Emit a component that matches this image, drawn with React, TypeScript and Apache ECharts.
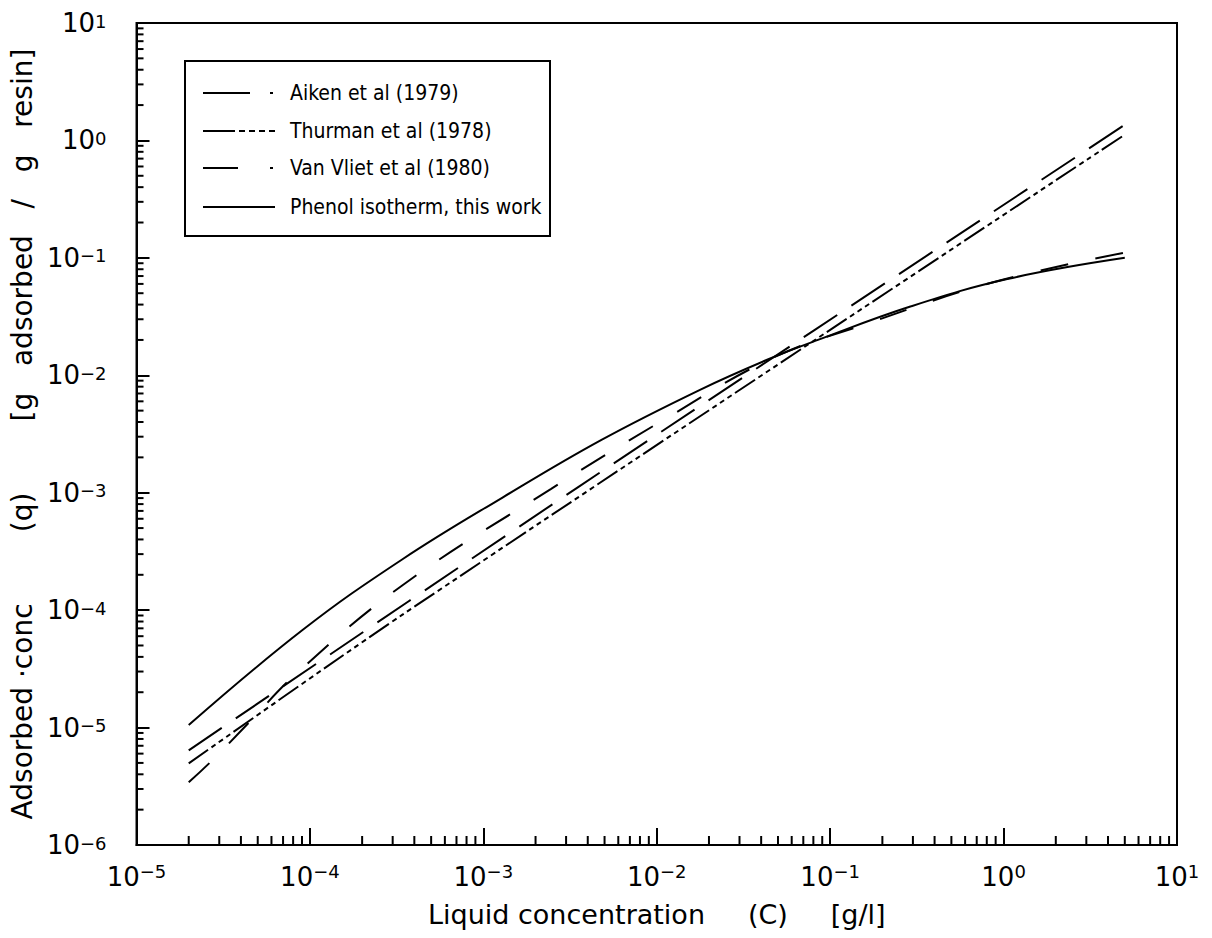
import React, { useEffect, useRef } from "react";
import * as echarts from "echarts";

const FONT = "'DejaVu Sans', 'Liberation Sans', Arial, sans-serif";
const LEGEND_FONT = "'Liberation Sans Narrow', 'DejaVu Sans Condensed', 'Liberation Sans', sans-serif";

// Liquid concentration C [g/l] and adsorbed concentration q [g/g] per isotherm
const aikenC = [2e-5, 3.47e-3, 5];
const aikenQ = [6.4e-6, 1.1e-3, 1.36];

const thurmanC = [2e-5, 3.4e-4, 5];
const thurmanQ = [4.95e-6, 9.1e-5, 1.12];

const vanVlietC = [2e-5, 2.73e-5, 4.23e-5, 8.5e-5, 3.42e-4, 2.46e-3, 1.14e-2, 4.68e-2, 0.157, 0.84, 5];
const vanVlietQ = [3.42e-6, 5.25e-6, 1.02e-5, 2.95e-5, 1.63e-4, 1.08e-3, 4.32e-3, 1.41e-2, 2.7e-2, 6.1e-2, 0.111];

const phenolC = [2e-5, 9.1e-5, 3.4e-4, 1.29e-3, 4.8e-3, 1.8e-2, 4.4e-2, 8.5e-2, 0.29, 1.05, 5];
const phenolQ = [1.05e-5, 6.8e-5, 2.7e-4, 9.1e-4, 2.82e-3, 7.6e-3, 1.37e-2, 2.0e-2, 3.85e-2, 6.6e-2, 0.1];

const legendLabels = [
  "Aiken et al (1979)",
  "Thurman et al (1978)",
  "Van Vliet et al (1980)",
  "Phenol isotherm, this work",
];

const xTitle = "Liquid concentration     (C)     [g/l]";
const yTitle = "Adsorbed \u00b7conc        (q)        [g   adsorbed   /   g   resin]";

// decades that carry minor ticks (2..9 x 10^n)
const xDecades = [-5, -4, -3, -2, -1, 0];
const yDecades = [-6, -5, -4, -3, -2, -1, 0];
const minorSteps = [2, 3, 4, 5, 6, 7, 8, 9];

const xMinor = xDecades.flatMap((d) => minorSteps.map((m) => m * Math.pow(10, d)));
const yMinor = yDecades.flatMap((d) => minorSteps.map((m) => m * Math.pow(10, d)));

const pair = (xs: number[], ys: number[]) => xs.map((x, i) => [x, ys[i]]);

const powerLabel = (v: number) => {
  const e = Math.round(Math.log10(v));
  const sup = e < 0 ? "\u2212" + Math.abs(e) : String(e);
  return `{b|10}{s|${sup}}`;
};

const DASH_AIKEN = [40, 17];
const DASH_THURMAN = [24, 4, 5, 4, 5, 4, 5, 4];
const DASH_VANVLIET = [28, 28];

export default function App() {
  const ref = useRef<HTMLDivElement>(null);

  useEffect(() => {
    if (!ref.current) return;
    const chart = echarts.init(ref.current, undefined, { renderer: "svg" });

    const lineBase = { color: "#000", width: 2 };
    const legendRows = [93, 131, 168, 207];
    const legendDash = [[47, 20, 3, 100], [32, 4, 6, 4, 6, 4, 6, 4, 6, 100], [35, 32, 3, 100], undefined];

    const graphic: any[] = [
      {
        type: "rect",
        z: 20,
        shape: { x: 185, y: 61, width: 365, height: 175 },
        style: { fill: "#fff", stroke: "#000", lineWidth: 2 },
      },
    ];
    legendLabels.forEach((label, i) => {
      const style: any = { stroke: "#000", lineWidth: 2 };
      if (legendDash[i]) style.lineDash = legendDash[i];
      graphic.push({
        type: "line",
        z: 21,
        shape: { x1: 203, y1: legendRows[i], x2: 275, y2: legendRows[i] },
        style,
      });
      graphic.push({
        type: "text",
        z: 21,
        x: 290,
        y: legendRows[i],
        style: {
          text: label,
          fontSize: 21,
          fontFamily: LEGEND_FONT,
          fill: "#000",
          verticalAlign: "middle",
          align: "left",
        },
      });
    });

    const richX = {
      b: { fontSize: 26, fontFamily: FONT, color: "#000", lineHeight: 28, padding: [6, 0, 0, 0], verticalAlign: "bottom" },
      s: { fontSize: 18, fontFamily: FONT, color: "#000", lineHeight: 17, verticalAlign: "top" },
    };
    const richY = {
      b: { fontSize: 26, fontFamily: FONT, color: "#000", lineHeight: 26, padding: [10, 0, 0, 0], verticalAlign: "bottom" },
      s: { fontSize: 18, fontFamily: FONT, color: "#000", lineHeight: 17, padding: [2, 0, 0, 0], verticalAlign: "top" },
    };

    chart.setOption({
      animation: false,
      backgroundColor: "#fff",
      grid: {
        left: 133,
        right: 35,
        top: 21,
        bottom: 93,
        show: true,
        borderColor: "#000",
        borderWidth: 2,
        backgroundColor: "transparent",
      },
      xAxis: {
        type: "log",
        logBase: 10,
        min: 1e-5,
        max: 10,
        axisLine: { show: true, lineStyle: { color: "#000", width: 2 } },
        axisTick: { show: true, inside: true, length: 17, lineStyle: { color: "#000", width: 2 } },
        splitLine: { show: false },
        axisLabel: { formatter: powerLabel, margin: 17, rich: richX },
        name: xTitle,
        nameLocation: "middle",
        nameGap: 56,
        nameTextStyle: { fontSize: 27, fontFamily: FONT, color: "#000" },
      },
      yAxis: {
        type: "log",
        logBase: 10,
        min: 1e-6,
        max: 10,
        axisLine: { show: true, lineStyle: { color: "#000", width: 2 } },
        axisTick: { show: true, inside: true, length: 13, lineStyle: { color: "#000", width: 2 } },
        splitLine: { show: false },
        axisLabel: { formatter: powerLabel, margin: 30, rich: richY },
        name: yTitle,
        nameLocation: "middle",
        nameGap: 79,
        nameTextStyle: { fontSize: 28, fontFamily: FONT, color: "#000" },
      },
      graphic,
      series: [
        {
          type: "custom",
          silent: true,
          z: 5,
          data: xMinor.map((v) => [v, 1]),
          renderItem: (params: any, api: any) => {
            const cs = params.coordSys;
            const px = api.coord([api.value(0), 1])[0];
            const bottom = cs.y + cs.height;
            return {
              type: "line",
              shape: { x1: px, y1: bottom, x2: px, y2: bottom - 9 },
              style: { stroke: "#000", lineWidth: 2 },
            };
          },
        },
        {
          type: "custom",
          silent: true,
          z: 5,
          data: yMinor.map((v) => [1, v]),
          renderItem: (params: any, api: any) => {
            const cs = params.coordSys;
            const py = api.coord([1, api.value(1)])[1];
            return {
              type: "line",
              shape: { x1: cs.x, y1: py, x2: cs.x + 7, y2: py },
              style: { stroke: "#000", lineWidth: 2 },
            };
          },
        },
        {
          name: legendLabels[0],
          type: "line",
          data: pair(aikenC, aikenQ),
          symbol: "none",
          smooth: 0.3,
          lineStyle: { ...lineBase, type: DASH_AIKEN },
        },
        {
          name: legendLabels[1],
          type: "line",
          data: pair(thurmanC, thurmanQ),
          symbol: "none",
          smooth: 0.3,
          lineStyle: { ...lineBase, type: DASH_THURMAN },
        },
        {
          name: legendLabels[2],
          type: "line",
          data: pair(vanVlietC, vanVlietQ),
          symbol: "none",
          smooth: 0.4,
          lineStyle: { ...lineBase, type: DASH_VANVLIET },
        },
        {
          name: legendLabels[3],
          type: "line",
          data: pair(phenolC, phenolQ),
          symbol: "none",
          smooth: 0.4,
          lineStyle: { ...lineBase, type: "solid" },
        },
      ],
    });

    return () => chart.dispose();
  }, []);

  return (
    <div
      ref={ref}
      style={{ position: "fixed", left: 0, top: 0, width: 1212, height: 938, background: "#fff" }}
    />
  );
}
